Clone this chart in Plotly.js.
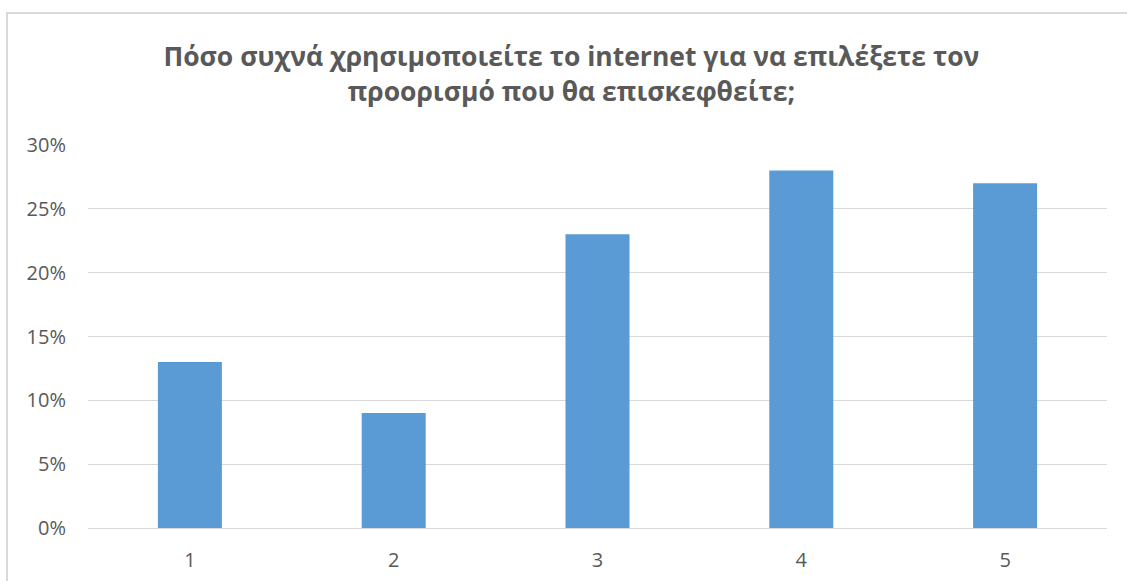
<!DOCTYPE html>
<html><head><meta charset="utf-8">
<script src="https://cdn.plot.ly/plotly-3.0.1.min.js"></script>
<style>
html,body{margin:0;padding:0;background:#fff;}
#wrap{position:relative;width:1127px;height:581px;overflow:hidden;}
#chart{position:absolute;left:0;top:0;width:1127px;height:581px;}
#frame{position:absolute;left:6px;top:12px;width:1200px;height:700px;border-left:2px solid #d9d9d9;border-top:2px solid #d9d9d9;pointer-events:none;}
</style></head>
<body><div id="wrap"><div id="chart"></div><div id="frame"></div></div>
<script>
const categories = ["1", "2", "3", "4", "5"];
const values = [0.13, 0.09, 0.23, 0.28, 0.27];
const yTickVals = [0, 0.05, 0.10, 0.15, 0.20, 0.25, 0.30];
const yTickText = ["0%", "5%", "10%", "15%", "20%", "25%", "30%"];
const titleText = "Πόσο συχνά χρησιμοποιείτε το internet για να επιλέξετε τον<br>προορισμό που θα επισκεφθείτε;";

Plotly.newPlot("chart", [{
  type: "bar",
  x: categories,
  y: values,
  marker: {color: "#5B9BD5"},
  hoverinfo: "skip"
}], {
  width: 1127, height: 581,
  margin: {l: 88, r: 20, t: 145, b: 53},
  paper_bgcolor: "#ffffff", plot_bgcolor: "#ffffff",
  bargap: 0.686,
  showlegend: false,
  font: {family: "Open Sans, sans-serif", color: "#595959"},
  title: {
    text: titleText,
    font: {family: "Open Sans, sans-serif", size: 26.5, color: "#595959", weight: "bold"},
    x: 0.507, xanchor: "center", y: 0.886, yanchor: "middle", yref: "container"
  },
  xaxis: {
    type: "category",
    showgrid: false, zeroline: false, showline: false,
    ticks: "", ticklabelstandoff: 18,
    tickfont: {size: 20, color: "#595959"}
  },
  yaxis: {
    range: [0, 0.30],
    tickvals: yTickVals, ticktext: yTickText,
    showgrid: true, gridcolor: "#d9d9d9", gridwidth: 1,
    zeroline: true, zerolinecolor: "#d9d9d9", zerolinewidth: 1,
    showline: false, ticks: "", ticklabelstandoff: 21,
    tickfont: {size: 20, color: "#595959"}
  }
}, {staticPlot: true});
</script></body></html>
